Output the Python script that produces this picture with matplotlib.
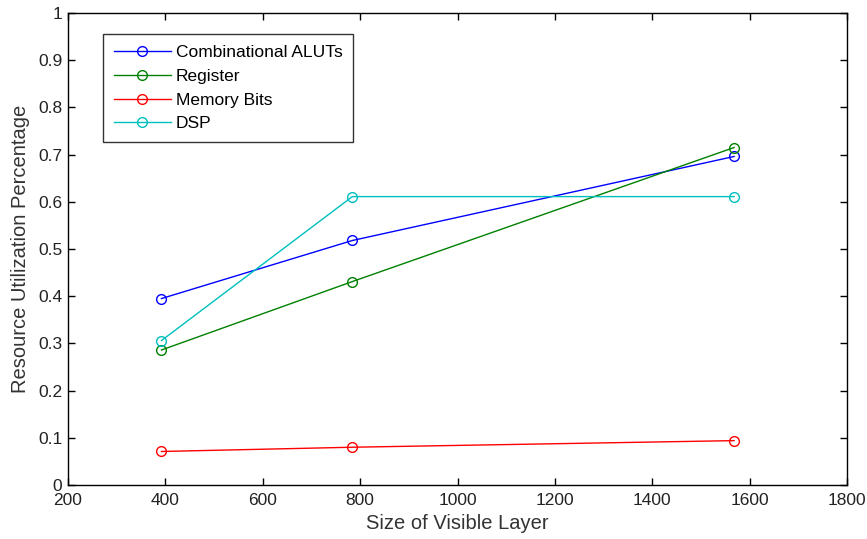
import matplotlib
matplotlib.use("Agg")
import matplotlib.pyplot as plt

# -----------------------------
# DATA
# -----------------------------
layer_size = [392, 784, 1568]
aluts = [0.395, 0.518, 0.696]
register = [0.286, 0.431, 0.715]
memory_bits = [0.071, 0.080, 0.094]
dsp = [0.306, 0.611, 0.611]

series_names = ["Combinational ALUTs", "Register", "Memory Bits", "DSP"]
series_colors = ["#0000ff", "#008000", "#ff0000", "#00bfbf"]

plt.rcParams["font.family"] = ["Liberation Sans", "DejaVu Sans"]

fig = plt.figure(figsize=(8.67, 5.39), dpi=100)
ax = fig.add_axes([0.0784, 0.1002, 0.8986, 0.8757])

for name, vals, col in zip(series_names, [aluts, register, memory_bits, dsp], series_colors):
    ax.plot(layer_size, vals, color=col, marker="o", markerfacecolor="none",
            markeredgecolor=col, markersize=7, linewidth=1.0, label=name)

ax.set_xlim(200, 1800)
ax.set_ylim(0, 1)
ax.set_xticks(range(200, 1801, 200))
ax.set_yticks([i / 10 for i in range(11)])
ax.set_yticklabels(["0", "0.1", "0.2", "0.3", "0.4", "0.5", "0.6", "0.7", "0.8", "0.9", "1"])
ax.tick_params(direction="in", top=True, right=True, labelsize=12.5, length=5, width=1,
               labelcolor="#222222")
ax.tick_params(axis="x", pad=6)
ax.tick_params(axis="y", pad=4)
for s in ax.spines.values():
    s.set_linewidth(1.0)

ax.set_xlabel("Size of Visible Layer", fontsize=14.5, color="#333333", labelpad=4)
ax.set_ylabel("Resource Utilization Percentage", fontsize=14.5, color="#333333", labelpad=6)

leg = ax.legend(loc="upper left", bbox_to_anchor=(0.034, 0.973), fontsize=12.5,
                frameon=True, fancybox=False, edgecolor="black", handlelength=3.3,
                handletextpad=0.3, borderpad=0.6, labelspacing=0.5)
leg.get_frame().set_linewidth(1.0)

fig.savefig("out.png", dpi=100)
